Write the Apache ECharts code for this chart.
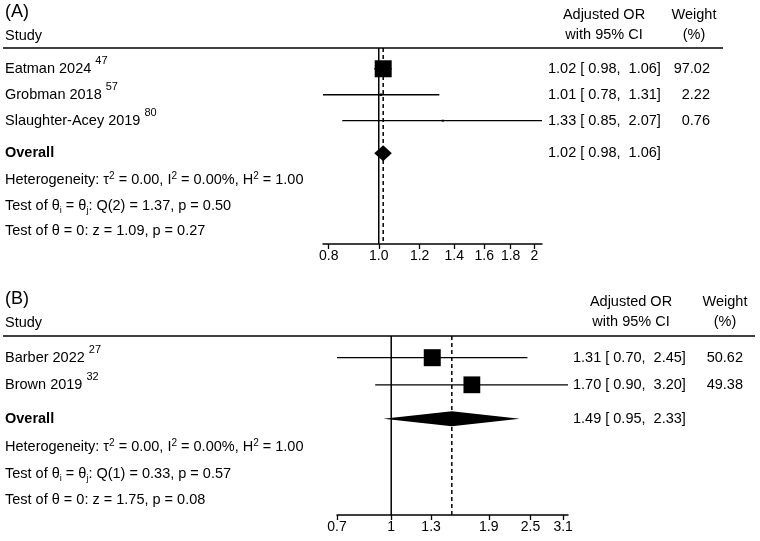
<!DOCTYPE html>
<html><head><meta charset="utf-8">
<script src="https://cdn.jsdelivr.net/npm/echarts@6/dist/echarts.min.js"></script>
<style>html,body{margin:0;padding:0;background:#fff}#c{width:760px;height:541px}</style>
</head><body><div id="c"></div>
<script>
// ---------- Panel A data ----------
const studiesA = ['Eatman 2024', 'Grobman 2018', 'Slaughter-Acey 2019'];
const refsA = ['47', '57', '80'];
const orA = [1.02, 1.01, 1.33];
const loA = [0.98, 0.78, 0.85];
const hiA = [1.06, 1.31, 2.07];
const weightA = [97.02, 2.22, 0.76];
const overallA = [1.02, 0.98, 1.06];
const ticksA = [0.8, 1.0, 1.2, 1.4, 1.6, 1.8, 2];
const tickLabelsA = ['0.8', '1.0', '1.2', '1.4', '1.6', '1.8', '2'];
const statsA = [
  ['Heterogeneity: τ', '2', ' = 0.00, I', '2', ' = 0.00%, H', '2', ' = 1.00'],
  ['2', '1.37', '0.50'],
  ['1.09', '0.27']
];
// ---------- Panel B data ----------
const studiesB = ['Barber 2022', 'Brown 2019'];
const refsB = ['27', '32'];
const orB = [1.31, 1.70];
const loB = [0.70, 0.90];
const hiB = [2.45, 3.20];
const weightB = [50.62, 49.38];
const overallB = [1.49, 0.95, 2.33];
const ticksB = [0.7, 1, 1.3, 1.9, 2.5, 3.1];
const tickLabelsB = ['0.7', '1', '1.3', '1.9', '2.5', '3.1'];
const statsB = [
  ['Heterogeneity: τ', '2', ' = 0.00, I', '2', ' = 0.00%, H', '2', ' = 1.00'],
  ['1', '0.33', '0.57'],
  ['1.75', '0.08']
];

const ln = Math.log;
const FONT = '"Liberation Sans", Arial, Helvetica, sans-serif';
const FS = 14.5;
const chart = echarts.init(document.getElementById('c'));

function makeX(gi, lo, hi, ticks, labels) {
  const tv = ticks.map(ln);
  return {
    gridIndex: gi, type: 'value', min: ln(lo), max: ln(hi),
    splitLine: { show: false },
    axisLine: { show: true, onZero: false, lineStyle: { color: '#000', width: 1.5 } },
    axisTick: { show: true, length: 5, customValues: tv, lineStyle: { color: '#000', width: 1.3 } },
    axisLabel: {
      customValues: tv, color: '#000', fontSize: 14, fontFamily: FONT, margin: 5,
      formatter: function (v) {
        for (let i = 0; i < tv.length; i++) if (Math.abs(tv[i] - v) < 1e-6) return labels[i];
        return '';
      }
    }
  };
}

function ciRender(params, api) {
  const a = api.coord([api.value(0), api.value(3)]);
  const b = api.coord([api.value(1), api.value(3)]);
  const c = api.coord([api.value(2), api.value(3)]);
  const s = api.value(4);
  return { type: 'group', children: [
    { type: 'line', shape: { x1: a[0], y1: a[1], x2: b[0], y2: b[1] }, style: { stroke: '#000', lineWidth: 1.3 } },
    { type: 'rect', shape: { x: c[0] - s / 2, y: c[1] - s / 2, width: s, height: s }, style: { fill: '#000' } }
  ]};
}
function diaRender(h) {
  return function (params, api) {
    const a = api.coord([api.value(0), api.value(3)]);
    const b = api.coord([api.value(1), api.value(3)]);
    const c = api.coord([api.value(2), api.value(3)]);
    return { type: 'polygon', shape: { points: [[a[0], a[1]], [c[0], c[1] - h / 2], [b[0], b[1]], [c[0], c[1] + h / 2]] },
      style: { fill: '#000' } };
  };
}

const SQ = 17;
function ciData(lo, hi, est, w, rows) {
  const mw = Math.max.apply(null, w);
  return est.map((e, i) => [ln(lo[i]), ln(hi[i]), ln(e), rows[i], Math.max(2, SQ * Math.sqrt(w[i] / mw))]);
}

const rowsA = [1, 2, 3], ovRowA = 4.25, statRowsA = [5.3, 6.3, 7.25];
const rowsB = [1, 2], ovRowB = 3.25, statRowsB = [4.3, 5.3, 6.25];
const yA = [0.2, 7.75], yB = [0.2, 6.8];

function vline(xi, x, yr, dashed) {
  return { type: 'line', xAxisIndex: xi, yAxisIndex: xi, data: [[x, yr[0]], [x, yr[1]]], symbol: 'none', silent: true,
    lineStyle: { color: '#000', width: 1.5, type: dashed ? [4, 3] : 'solid' }, z: 1 };
}

chart.setOption({
  animation: false,
  backgroundColor: '#fff',
  grid: [{ left: 323, top: 48, width: 219, height: 196 }, { left: 337, top: 336, width: 231, height: 179 }],
  xAxis: [makeX(0, 0.78, 2.07, ticksA, tickLabelsA), makeX(1, 0.70, 3.20, ticksB, tickLabelsB)],
  yAxis: [
    { gridIndex: 0, type: 'value', min: yA[0], max: yA[1], inverse: true, show: false },
    { gridIndex: 1, type: 'value', min: yB[0], max: yB[1], inverse: true, show: false }
  ],
  series: [
    vline(0, ln(1), yA, false), vline(0, ln(overallA[0]), yA, true),
    vline(1, ln(1), yB, false), vline(1, ln(overallB[0]), yB, true),
    { type: 'custom', xAxisIndex: 0, yAxisIndex: 0, renderItem: ciRender, clip: false, z: 3,
      encode: { x: [0, 1, 2], y: 3 }, data: ciData(loA, hiA, orA, weightA, rowsA) },
    { type: 'custom', xAxisIndex: 1, yAxisIndex: 1, renderItem: ciRender, clip: false, z: 3,
      encode: { x: [0, 1, 2], y: 3 }, data: ciData(loB, hiB, orB, weightB, rowsB) },
    { type: 'custom', xAxisIndex: 0, yAxisIndex: 0, renderItem: diaRender(16), clip: false, z: 3,
      encode: { x: [0, 1, 2], y: 3 }, data: [[ln(overallA[1]), ln(overallA[2]), ln(overallA[0]), ovRowA]] },
    { type: 'custom', xAxisIndex: 1, yAxisIndex: 1, renderItem: diaRender(15), clip: false, z: 3,
      encode: { x: [0, 1, 2], y: 3 }, data: [[ln(overallB[1]), ln(overallB[2]), ln(overallB[0]), ovRowB]] }
  ]
});

const RICH = {
  n: { fontSize: FS, fontFamily: FONT, lineHeight: 18, fill: '#000' },
  ns: { fontSize: FS, fontFamily: FONT, lineHeight: 26, fill: '#000' },
  sup: { fontSize: 10, fontFamily: FONT, lineHeight: 10, verticalAlign: 'top', fill: '#000' },
  ref: { fontSize: 11, fontFamily: FONT, lineHeight: 11, verticalAlign: 'top', fill: '#000' },
  sub: { fontSize: 9, fontFamily: FONT, lineHeight: 9, verticalAlign: 'bottom', fill: '#000' }
};
function txt(x, y, text, align, opts) {
  opts = opts || {};
  return { type: 'text', x: x, y: y, silent: true, z: 10,
    style: { text: text, rich: RICH, fill: '#000', align: align || 'left', verticalAlign: 'middle',
      font: (opts.bold ? 'bold ' : '') + (opts.size || FS) + 'px ' + FONT } };
}
function py(gi, row) { return chart.convertToPixel({ gridIndex: gi }, [0, row])[1]; }
function fmt(e, l, h) { return e.toFixed(2) + ' [ ' + l.toFixed(2) + ',  ' + h.toFixed(2) + ']'; }
function statTexts(gi, stats, rows) {
  const h = stats[0];
  const t1 = '{n|' + h[0] + '}{sup|' + h[1] + '}{n|' + h[2] + '}{sup|' + h[3] + '}{n|' + h[4] + '}{sup|' + h[5] + '}{n|' + h[6] + '}';
  const t2 = '{n|Test of θ}{sub|i}{n| = θ}{sub|j}{n|: Q(' + stats[1][0] + ') = ' + stats[1][1] + ', p = ' + stats[1][2] + '}';
  const t3 = '{n|Test of θ = 0: z = ' + stats[2][0] + ', p = ' + stats[2][1] + '}';
  return [txt(5, py(gi, rows[0]), t1), txt(5, py(gi, rows[1]), t2), txt(5, py(gi, rows[2]), t3)];
}
function panel(gi, label, top, lineY, lineR, hdrX, wX, valX, wR, studies, refs, est, lo, hi, w, rows, ov, ovRow, stats, statRows) {
  const g = [];
  g.push(txt(5, top, '(' + label + ')', 'left', { size: 18 }));
  g.push(txt(5, top + 24, 'Study'));
  g.push(txt(hdrX, top + 3, 'Adjusted OR', 'center'));
  g.push(txt(hdrX, top + 23, 'with 95% CI', 'center'));
  g.push(txt(wX, top + 3, 'Weight', 'center'));
  g.push(txt(wX, top + 23, '(%)', 'center'));
  g.push({ type: 'line', silent: true, shape: { x1: 3, y1: lineY, x2: lineR, y2: lineY }, style: { stroke: '#000', lineWidth: 1.5 } });
  studies.forEach((s, i) => {
    const y = py(gi, rows[i]);
    g.push(txt(5, y, '{ns|' + s + ' }{ref|' + refs[i] + '}'));
    g.push(txt(valX, y, fmt(est[i], lo[i], hi[i])));
    g.push(txt(wR, y, w[i].toFixed(2), 'right'));
  });
  const oy = py(gi, ovRow);
  g.push(txt(5, oy, 'Overall', 'left', { bold: true }));
  g.push(txt(valX, oy, fmt(ov[0], ov[1], ov[2])));
  return g.concat(statTexts(gi, stats, statRows));
}

const graphics = [].concat(
  panel(0, 'A', 12, 48, 723, 604, 694, 548, 710, studiesA, refsA, orA, loA, hiA, weightA, rowsA, overallA, ovRowA, statsA, statRowsA),
  panel(1, 'B', 299, 336, 755, 631, 725, 573, 743, studiesB, refsB, orB, loB, hiB, weightB, rowsB, overallB, ovRowB, statsB, statRowsB)
);
chart.setOption({ graphic: { elements: graphics } });
</script></body></html>
